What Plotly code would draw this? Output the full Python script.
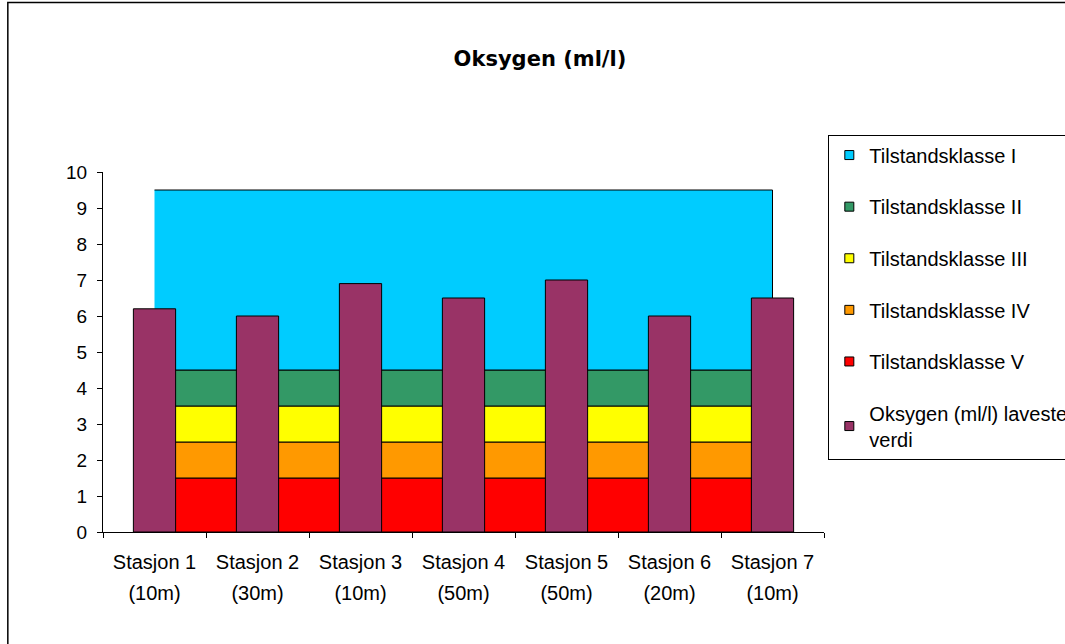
import plotly.graph_objects as go

stations = ["Stasjon 1", "Stasjon 2", "Stasjon 3", "Stasjon 4", "Stasjon 5", "Stasjon 6", "Stasjon 7"]
depths = ["(10m)", "(30m)", "(10m)", "(50m)", "(50m)", "(20m)", "(10m)"]

# Class band thicknesses (stacked from bottom: V, IV, III, II, I)
klasse_V = [1.5, 1.5, 1.5, 1.5, 1.5, 1.5, 1.5]
klasse_IV = [1.0, 1.0, 1.0, 1.0, 1.0, 1.0, 1.0]
klasse_III = [1.0, 1.0, 1.0, 1.0, 1.0, 1.0, 1.0]
klasse_II = [1.0, 1.0, 1.0, 1.0, 1.0, 1.0, 1.0]
klasse_I = [5.0, 5.0, 5.0, 5.0, 5.0, 5.0, 5.0]

oksygen = [6.2, 6.0, 6.9, 6.5, 7.0, 6.0, 6.5]

band_names = ["Tilstandsklasse V", "Tilstandsklasse IV", "Tilstandsklasse III",
              "Tilstandsklasse II", "Tilstandsklasse I"]
band_values = [klasse_V, klasse_IV, klasse_III, klasse_II, klasse_I]
band_colors = ["#FF0000", "#FF9900", "#FFFF00", "#339966", "#00CCFF"]

FONT = "Liberation Sans, Arial, sans-serif"

fig = go.Figure()

bottom = [0.0] * len(stations)
for name, vals, col in zip(band_names, band_values, band_colors):
    top = [b + v for b, v in zip(bottom, vals)]
    fig.add_trace(go.Scatter(
        x=stations + stations[::-1],
        y=top + bottom[::-1],
        fill="toself", fillcolor=col, mode="lines",
        line=dict(color="black", width=1),
        showlegend=False, hoverinfo="skip",
        xaxis="x", yaxis="y",
    ))
    bottom = top

fig.add_trace(go.Bar(
    x=stations, y=oksygen, width=0.41,
    marker=dict(color="#993366", line=dict(color="black", width=1)),
    showlegend=False, xaxis="x2", yaxis="y2",
))

# Legend entries (in reference order)
legend_items = list(zip(band_names, band_colors))[::-1] + [("Oksygen (ml/l) laveste<br>verdi", "#993366")]
for i, (name, col) in enumerate(legend_items):
    fig.add_trace(go.Scatter(
        x=[None], y=[None], mode="markers", name=name,
        marker=dict(symbol="square", size=9, color=col, line=dict(color="black", width=1)),
        legendgroup=f"g{i}", showlegend=True,
    ))

fig.update_layout(
    width=1065, height=644,
    margin=dict(l=103, r=241, t=172, b=112, autoexpand=False),
    paper_bgcolor="white", plot_bgcolor="white",
    title=dict(text="<b>Oksygen (ml/l)</b>", x=0.507, xanchor="center", y=0.909, yanchor="middle",
               font=dict(family="DejaVu Sans", size=21, color="black")),
    font=dict(family=FONT, size=20, color="black"),
    showlegend=True,
    legend=dict(
        x=1.006, xanchor="left", y=1.104, yanchor="top",
        bgcolor="white", bordercolor="black", borderwidth=1,
        font=dict(family=FONT, size=20, color="black"),
        traceorder="grouped", tracegroupgap=22.6,
        itemwidth=30, maxheight=450,
    ),
    xaxis=dict(
        type="category", categoryorder="array", categoryarray=stations,
        range=[-0.5, 6.5],
        tickvals=stations, ticktext=stations,
        tickson="boundaries", ticks="outside", ticklen=5, tickcolor="black",
        showline=True, linecolor="black", linewidth=1,
        showgrid=False, zeroline=False,
        ticklabelstandoff=12,
        tickfont=dict(family=FONT, size=20, color="black"),
    ),
    xaxis2=dict(
        type="category", categoryorder="array", categoryarray=stations,
        range=[-0.5, 6.5], overlaying="x", anchor="y2", side="bottom",
        tickvals=stations, ticktext=depths,
        ticks="", showline=False, showgrid=False, zeroline=False,
        ticklabelstandoff=47,
        tickfont=dict(family=FONT, size=20, color="black"),
    ),
    yaxis=dict(
        range=[0, 10], tickmode="linear", tick0=0, dtick=1,
        ticks="outside", ticklen=5, tickcolor="black",
        showline=True, linecolor="black", linewidth=1,
        showgrid=False, zeroline=False,
        ticklabelstandoff=6,
        tickfont=dict(family=FONT, size=19, color="black"),
    ),
    yaxis2=dict(
        range=[0, 10], overlaying="y", matches="y", visible=False,
    ),
    shapes=[dict(type="rect", xref="paper", yref="paper",
                 x0=-0.132, x1=1.6, y0=-0.5, y1=1.471,
                 line=dict(color="black", width=1.5), layer="below")],
)

fig.write_html("out.html", config={"displayModeBar": False},
               post_script="document.body.style.margin='0px';")
